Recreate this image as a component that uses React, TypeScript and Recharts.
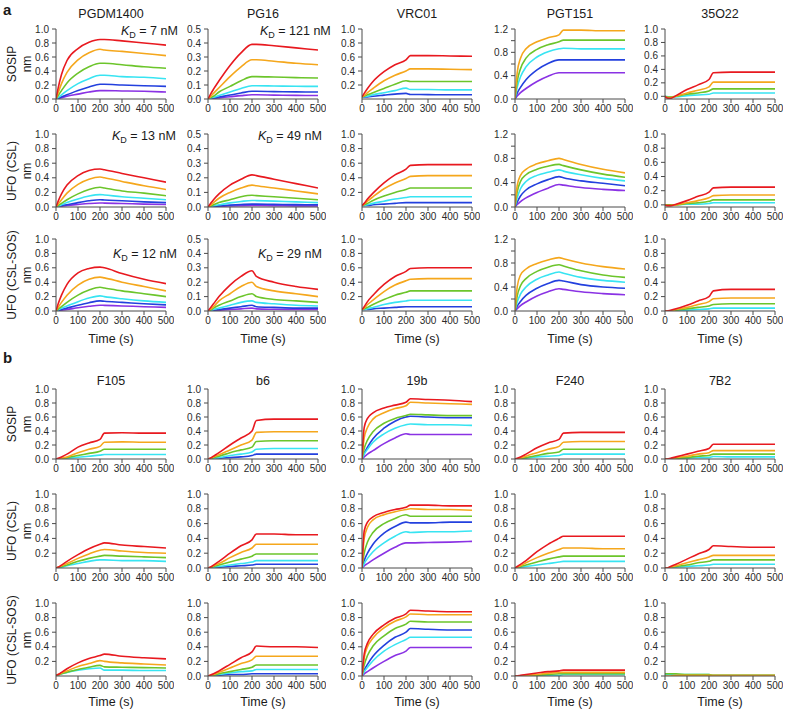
import React from 'react';
import { LineChart, Line, XAxis, YAxis } from 'recharts';

// sample times (s)
const times = [0, 10, 25, 50, 100, 150, 200, 220, 300, 400, 500];
const xTicks = [0, 100, 200, 300, 400, 500];

const colNames = ['PGDM1400', 'PG16', 'VRC01', 'PGT151', '35O22'];
const colNamesB = ['F105', 'b6', '19b', 'F240', '7B2'];
const rowNames = ['SOSIP', 'UFO (CSL)', 'UFO (CSL-SOS)'];

const T10 = [0, 0.2, 0.4, 0.6, 0.8, 1.0];
const T10b = [0.2, 0.4, 0.6, 0.8, 1.0];
const T05 = [0, 0.1, 0.2, 0.3, 0.4, 0.5];
const T12 = [0, 0.2, 0.4, 0.6, 0.8, 1.0, 1.2];

// ---------- section a ----------
const PGDM1400_SOSIP = {
  red: [0, 0.16, 0.35, 0.55, 0.72, 0.81, 0.85, 0.85, 0.83, 0.80, 0.77],
  orange: [0, 0.09, 0.22, 0.38, 0.56, 0.66, 0.71, 0.70, 0.68, 0.65, 0.62],
  green: [0, 0.05, 0.12, 0.23, 0.37, 0.46, 0.51, 0.51, 0.49, 0.46, 0.44],
  cyan: [0, 0.02, 0.06, 0.12, 0.22, 0.29, 0.34, 0.34, 0.32, 0.31, 0.29],
  blue: [0, 0.01, 0.03, 0.06, 0.12, 0.17, 0.21, 0.21, 0.20, 0.19, 0.18],
  purple: [0, 0.01, 0.02, 0.04, 0.07, 0.10, 0.12, 0.12, 0.115, 0.11, 0.10],
};
const PG16_SOSIP = {
  red: [0, 0.03, 0.07, 0.13, 0.24, 0.33, 0.39, 0.39, 0.38, 0.365, 0.35],
  orange: [0, 0.015, 0.04, 0.08, 0.16, 0.23, 0.28, 0.28, 0.27, 0.255, 0.245],
  green: [0, 0.01, 0.02, 0.05, 0.09, 0.13, 0.16, 0.16, 0.157, 0.153, 0.15],
  cyan: [0, 0.005, 0.012, 0.025, 0.05, 0.075, 0.095, 0.095, 0.093, 0.091, 0.09],
  blue: [0, 0.003, 0.007, 0.014, 0.028, 0.043, 0.055, 0.055, 0.053, 0.051, 0.05],
  purple: [0, 0.002, 0.004, 0.008, 0.016, 0.024, 0.03, 0.03, 0.028, 0.026, 0.025],
};
const VRC01_SOSIP = {
  red: [0.03, 0.08, 0.15, 0.25, 0.39, 0.49, 0.56, 0.62, 0.62, 0.615, 0.61],
  orange: [0.03, 0.05, 0.09, 0.15, 0.26, 0.34, 0.40, 0.43, 0.43, 0.425, 0.42],
  green: [0.03, 0.04, 0.06, 0.09, 0.15, 0.21, 0.26, 0.25, 0.25, 0.25, 0.25],
  cyan: [0.03, 0.035, 0.04, 0.06, 0.09, 0.12, 0.155, 0.135, 0.135, 0.13, 0.13],
  blue: [0.03, 0.03, 0.03, 0.04, 0.055, 0.07, 0.08, 0.065, 0.063, 0.06, 0.06],
};
const PGT151_SOSIP = {
  orange: [0, 0.45, 0.70, 0.86, 0.98, 1.05, 1.10, 1.18, 1.18, 1.17, 1.17],
  green: [0, 0.30, 0.52, 0.70, 0.85, 0.93, 0.98, 1.01, 1.01, 1.01, 1.01],
  cyan: [0, 0.20, 0.38, 0.55, 0.72, 0.81, 0.86, 0.87, 0.86, 0.86, 0.86],
  blue: [0, 0.10, 0.20, 0.33, 0.50, 0.61, 0.67, 0.67, 0.67, 0.67, 0.67],
  purple: [0, 0.05, 0.11, 0.18, 0.30, 0.39, 0.45, 0.45, 0.45, 0.45, 0.45],
};
const O22_SOSIP = {
  red: [0, -0.025, -0.03, 0.01, 0.10, 0.17, 0.25, 0.35, 0.36, 0.36, 0.36],
  orange: [0, -0.02, -0.02, 0.0, 0.05, 0.09, 0.14, 0.21, 0.21, 0.21, 0.21],
  green: [0, -0.01, -0.01, 0.0, 0.03, 0.05, 0.08, 0.11, 0.11, 0.11, 0.11],
  cyan: [0, -0.005, -0.01, -0.01, 0.01, 0.02, 0.03, 0.05, 0.05, 0.05, 0.05],
};

const PGDM1400_CSL = {
  red: [0, 0.08, 0.18, 0.30, 0.43, 0.50, 0.52, 0.51, 0.46, 0.40, 0.34],
  orange: [0, 0.04, 0.10, 0.19, 0.31, 0.38, 0.41, 0.40, 0.35, 0.29, 0.24],
  green: [0, 0.02, 0.05, 0.10, 0.18, 0.24, 0.27, 0.26, 0.22, 0.19, 0.155],
  cyan: [0, 0.01, 0.03, 0.06, 0.11, 0.15, 0.17, 0.165, 0.14, 0.12, 0.10],
  blue: [0, 0.008, 0.02, 0.03, 0.06, 0.085, 0.10, 0.095, 0.085, 0.07, 0.06],
  purple: [0, 0.004, 0.01, 0.02, 0.035, 0.048, 0.055, 0.053, 0.048, 0.04, 0.035],
};
const PG16_CSL = {
  red: [0, 0.02, 0.05, 0.09, 0.15, 0.19, 0.22, 0.215, 0.19, 0.16, 0.13],
  orange: [0, 0.01, 0.03, 0.06, 0.10, 0.13, 0.15, 0.145, 0.13, 0.11, 0.09],
  green: [0, 0.005, 0.015, 0.03, 0.05, 0.07, 0.08, 0.078, 0.07, 0.06, 0.05],
  cyan: [0, 0.003, 0.008, 0.015, 0.028, 0.038, 0.045, 0.044, 0.04, 0.035, 0.03],
  blue: [0, 0.002, 0.004, 0.008, 0.013, 0.017, 0.02, 0.02, 0.018, 0.016, 0.015],
  purple: [0, 0.001, 0.002, 0.004, 0.007, 0.009, 0.01, 0.01, 0.009, 0.008, 0.008],
};
const VRC01_CSL = {
  red: [0.02, 0.05, 0.11, 0.19, 0.33, 0.44, 0.52, 0.57, 0.58, 0.58, 0.58],
  orange: [0.02, 0.04, 0.08, 0.14, 0.25, 0.33, 0.39, 0.42, 0.43, 0.43, 0.43],
  green: [0.02, 0.03, 0.05, 0.09, 0.15, 0.20, 0.24, 0.26, 0.26, 0.26, 0.26],
  cyan: [0.02, 0.02, 0.03, 0.05, 0.08, 0.11, 0.13, 0.14, 0.14, 0.14, 0.14],
  blue: [0.02, 0.02, 0.02, 0.03, 0.04, 0.05, 0.06, 0.06, 0.06, 0.06, 0.06],
};
const PGT151_CSL = {
  orange: [0, 0.35, 0.52, 0.62, 0.71, 0.76, 0.80, 0.78, 0.70, 0.62, 0.56],
  green: [0, 0.25, 0.42, 0.53, 0.62, 0.67, 0.70, 0.68, 0.61, 0.54, 0.49],
  cyan: [0, 0.15, 0.30, 0.42, 0.52, 0.57, 0.61, 0.59, 0.53, 0.47, 0.43],
  blue: [0, 0.08, 0.18, 0.28, 0.38, 0.45, 0.50, 0.48, 0.43, 0.39, 0.35],
  purple: [0, 0.04, 0.09, 0.15, 0.24, 0.31, 0.37, 0.36, 0.32, 0.29, 0.27],
};
const O22_CSL = {
  red: [0, -0.01, -0.01, 0.01, 0.06, 0.12, 0.18, 0.24, 0.25, 0.25, 0.25],
  orange: [0, -0.01, -0.01, 0.0, 0.03, 0.06, 0.10, 0.13, 0.14, 0.14, 0.14],
  green: [0, 0, 0, 0, 0.02, 0.03, 0.05, 0.07, 0.07, 0.07, 0.07],
  cyan: [0, 0, 0, 0, 0.01, 0.01, 0.02, 0.03, 0.03, 0.03, 0.03],
};

const PGDM1400_CSLSOS = {
  red: [0, 0.10, 0.22, 0.37, 0.53, 0.59, 0.61, 0.60, 0.52, 0.44, 0.38],
  orange: [0, 0.05, 0.12, 0.22, 0.36, 0.44, 0.47, 0.46, 0.40, 0.34, 0.28],
  green: [0, 0.025, 0.06, 0.12, 0.22, 0.29, 0.33, 0.32, 0.28, 0.24, 0.20],
  cyan: [0, 0.015, 0.04, 0.07, 0.13, 0.18, 0.21, 0.20, 0.17, 0.14, 0.12],
  blue: [0, 0.008, 0.02, 0.04, 0.08, 0.115, 0.14, 0.135, 0.12, 0.10, 0.085],
  purple: [0, 0.004, 0.01, 0.02, 0.045, 0.065, 0.08, 0.078, 0.07, 0.06, 0.05],
};
const PG16_CSLSOS = {
  red: [0, 0.02, 0.05, 0.10, 0.18, 0.24, 0.28, 0.24, 0.20, 0.17, 0.15],
  orange: [0, 0.01, 0.03, 0.07, 0.12, 0.17, 0.20, 0.17, 0.14, 0.12, 0.10],
  green: [0, 0.005, 0.02, 0.04, 0.07, 0.10, 0.12, 0.10, 0.08, 0.07, 0.06],
  cyan: [0, 0.003, 0.01, 0.02, 0.04, 0.06, 0.07, 0.06, 0.05, 0.04, 0.035],
  blue: [0, 0.002, 0.005, 0.01, 0.02, 0.03, 0.04, 0.03, 0.025, 0.02, 0.02],
  purple: [0, 0.001, 0.002, 0.005, 0.01, 0.015, 0.02, 0.015, 0.012, 0.01, 0.01],
};
const VRC01_CSLSOS = {
  red: [0.02, 0.06, 0.13, 0.22, 0.37, 0.48, 0.55, 0.59, 0.60, 0.60, 0.60],
  orange: [0.02, 0.04, 0.09, 0.15, 0.27, 0.36, 0.42, 0.44, 0.45, 0.45, 0.45],
  green: [0.02, 0.03, 0.05, 0.09, 0.16, 0.22, 0.26, 0.28, 0.28, 0.28, 0.28],
  cyan: [0.02, 0.02, 0.03, 0.05, 0.09, 0.12, 0.14, 0.15, 0.15, 0.15, 0.15],
  blue: [0.02, 0.02, 0.02, 0.03, 0.04, 0.05, 0.06, 0.06, 0.06, 0.06, 0.06],
};
const PGT151_CSLSOS = {
  orange: [0, 0.40, 0.60, 0.70, 0.79, 0.85, 0.89, 0.87, 0.80, 0.74, 0.70],
  green: [0, 0.25, 0.42, 0.54, 0.66, 0.73, 0.77, 0.75, 0.67, 0.60, 0.56],
  cyan: [0, 0.15, 0.28, 0.40, 0.53, 0.60, 0.65, 0.63, 0.56, 0.51, 0.48],
  blue: [0, 0.08, 0.16, 0.26, 0.38, 0.46, 0.51, 0.50, 0.44, 0.40, 0.38],
  purple: [0, 0.04, 0.09, 0.15, 0.25, 0.32, 0.37, 0.36, 0.32, 0.29, 0.27],
};
const O22_CSLSOS = {
  red: [0, 0, 0.01, 0.03, 0.08, 0.14, 0.20, 0.28, 0.30, 0.30, 0.30],
  orange: [0, 0, 0, 0.02, 0.05, 0.09, 0.13, 0.17, 0.18, 0.18, 0.18],
  green: [0, 0, 0, 0.01, 0.03, 0.05, 0.07, 0.09, 0.10, 0.10, 0.10],
  cyan: [0, 0, 0, 0, 0.01, 0.02, 0.03, 0.04, 0.04, 0.04, 0.04],
};

// ---------- section b ----------
const F105_SOSIP = {
  red: [0, 0.01, 0.03, 0.07, 0.17, 0.23, 0.28, 0.37, 0.375, 0.37, 0.37],
  orange: [0, -0.005, 0.01, 0.03, 0.09, 0.14, 0.18, 0.24, 0.245, 0.24, 0.24],
  green: [0, 0, 0.005, 0.02, 0.05, 0.08, 0.11, 0.14, 0.14, 0.14, 0.14],
  cyan: [0, 0, 0, 0.01, 0.025, 0.04, 0.055, 0.065, 0.065, 0.065, 0.065],
};
const B6_SOSIP = {
  red: [0, 0.01, 0.04, 0.09, 0.20, 0.30, 0.40, 0.55, 0.57, 0.57, 0.57],
  orange: [0, 0.01, 0.03, 0.06, 0.13, 0.20, 0.27, 0.38, 0.39, 0.39, 0.39],
  green: [0, 0, 0.02, 0.04, 0.09, 0.13, 0.17, 0.25, 0.26, 0.26, 0.26],
  cyan: [0, 0, 0.01, 0.02, 0.05, 0.07, 0.10, 0.14, 0.15, 0.15, 0.15],
  blue: [0, 0, 0, 0.01, 0.02, 0.03, 0.05, 0.07, 0.07, 0.07, 0.07],
};
const B19_SOSIP = {
  red: [0, 0.45, 0.58, 0.66, 0.73, 0.77, 0.81, 0.86, 0.85, 0.84, 0.82],
  orange: [0, 0.30, 0.45, 0.57, 0.66, 0.72, 0.76, 0.81, 0.80, 0.79, 0.78],
  green: [0, 0.15, 0.27, 0.39, 0.51, 0.58, 0.62, 0.64, 0.63, 0.62, 0.62],
  blue: [0, 0.08, 0.17, 0.29, 0.44, 0.54, 0.60, 0.61, 0.60, 0.59, 0.59],
  cyan: [0, 0.07, 0.14, 0.24, 0.36, 0.44, 0.49, 0.50, 0.49, 0.49, 0.48],
  purple: [0, 0.03, 0.07, 0.12, 0.22, 0.30, 0.36, 0.35, 0.35, 0.35, 0.35],
};
const F240_SOSIP = {
  red: [0, 0.01, 0.03, 0.07, 0.16, 0.23, 0.28, 0.37, 0.38, 0.38, 0.38],
  orange: [0, 0, 0.01, 0.04, 0.09, 0.14, 0.18, 0.24, 0.25, 0.25, 0.25],
  green: [0, 0, 0.01, 0.02, 0.05, 0.08, 0.10, 0.14, 0.14, 0.14, 0.14],
  cyan: [0, 0, 0, 0.01, 0.03, 0.04, 0.05, 0.07, 0.07, 0.07, 0.07],
};
const B7B2_SOSIP = {
  red: [0, 0, 0.01, 0.03, 0.07, 0.11, 0.15, 0.21, 0.21, 0.21, 0.21],
  orange: [0, 0, 0, 0.02, 0.04, 0.07, 0.09, 0.12, 0.12, 0.12, 0.12],
  green: [0, 0, 0, 0.01, 0.02, 0.04, 0.05, 0.07, 0.07, 0.07, 0.07],
  cyan: [0, 0, 0, 0, 0.01, 0.02, 0.02, 0.035, 0.03, 0.03, 0.03],
};

const F105_CSL = {
  red: [0, 0.01, 0.04, 0.09, 0.18, 0.26, 0.32, 0.34, 0.31, 0.29, 0.27],
  orange: [0, 0.01, 0.03, 0.06, 0.13, 0.19, 0.24, 0.25, 0.23, 0.21, 0.20],
  green: [0, 0.01, 0.02, 0.04, 0.09, 0.13, 0.16, 0.17, 0.16, 0.15, 0.14],
  cyan: [0, 0, 0.01, 0.03, 0.06, 0.09, 0.11, 0.11, 0.10, 0.10, 0.09],
};
const B6_CSL = {
  red: [0, 0.01, 0.04, 0.09, 0.20, 0.30, 0.38, 0.46, 0.46, 0.45, 0.45],
  orange: [0, 0.01, 0.03, 0.06, 0.14, 0.21, 0.27, 0.32, 0.32, 0.32, 0.32],
  green: [0, 0, 0.02, 0.04, 0.08, 0.12, 0.16, 0.19, 0.19, 0.19, 0.19],
  cyan: [0, 0, 0.01, 0.02, 0.04, 0.06, 0.08, 0.10, 0.10, 0.10, 0.10],
  blue: [0, 0, 0, 0.01, 0.02, 0.03, 0.04, 0.05, 0.05, 0.05, 0.05],
};
const B19_CSL = {
  red: [0, 0.50, 0.62, 0.69, 0.75, 0.79, 0.82, 0.85, 0.85, 0.84, 0.84],
  orange: [0, 0.40, 0.55, 0.65, 0.72, 0.76, 0.79, 0.80, 0.79, 0.79, 0.78],
  green: [0, 0.20, 0.35, 0.48, 0.60, 0.67, 0.72, 0.70, 0.70, 0.70, 0.70],
  blue: [0, 0.10, 0.20, 0.32, 0.47, 0.56, 0.62, 0.61, 0.61, 0.62, 0.62],
  cyan: [0, 0.06, 0.13, 0.22, 0.34, 0.43, 0.49, 0.48, 0.49, 0.49, 0.50],
  purple: [0, 0.03, 0.06, 0.11, 0.20, 0.28, 0.34, 0.34, 0.345, 0.35, 0.36],
};
const F240_CSL = {
  red: [0, 0.02, 0.05, 0.10, 0.22, 0.32, 0.40, 0.43, 0.43, 0.43, 0.43],
  orange: [0, 0.01, 0.03, 0.07, 0.14, 0.20, 0.25, 0.27, 0.27, 0.26, 0.26],
  green: [0, 0.01, 0.02, 0.04, 0.08, 0.12, 0.15, 0.16, 0.16, 0.16, 0.16],
  cyan: [0, 0, 0.01, 0.02, 0.04, 0.06, 0.08, 0.09, 0.09, 0.09, 0.09],
};
const B7B2_CSL = {
  red: [0, 0, 0.02, 0.05, 0.12, 0.19, 0.25, 0.30, 0.29, 0.28, 0.28],
  orange: [0, 0, 0.01, 0.03, 0.07, 0.11, 0.15, 0.17, 0.17, 0.17, 0.17],
  green: [0, 0, 0.01, 0.02, 0.04, 0.07, 0.09, 0.11, 0.11, 0.11, 0.11],
  cyan: [0, 0, 0, 0.01, 0.02, 0.03, 0.04, 0.05, 0.05, 0.05, 0.05],
};

const F105_CSLSOS = {
  red: [0.01, 0.02, 0.05, 0.10, 0.18, 0.24, 0.28, 0.30, 0.27, 0.25, 0.235],
  orange: [0.01, 0.02, 0.04, 0.07, 0.13, 0.17, 0.21, 0.20, 0.18, 0.165, 0.15],
  green: [0.01, 0.015, 0.03, 0.05, 0.09, 0.12, 0.145, 0.125, 0.12, 0.115, 0.11],
  cyan: [0.01, 0.015, 0.03, 0.05, 0.08, 0.10, 0.11, 0.08, 0.08, 0.075, 0.075],
};
const B6_CSLSOS = {
  red: [0, 0.01, 0.03, 0.07, 0.16, 0.25, 0.33, 0.41, 0.40, 0.40, 0.39],
  orange: [0, 0.01, 0.02, 0.05, 0.11, 0.17, 0.22, 0.27, 0.27, 0.27, 0.27],
  green: [0, 0, 0.01, 0.03, 0.06, 0.09, 0.12, 0.15, 0.15, 0.15, 0.15],
  cyan: [0, 0, 0.01, 0.02, 0.04, 0.06, 0.07, 0.09, 0.09, 0.09, 0.09],
  blue: [0, 0, 0, 0.01, 0.02, 0.02, 0.03, 0.03, 0.03, 0.03, 0.03],
};
const B19_CSLSOS = {
  red: [0, 0.30, 0.45, 0.57, 0.70, 0.79, 0.85, 0.90, 0.89, 0.88, 0.88],
  orange: [0, 0.25, 0.40, 0.52, 0.66, 0.75, 0.81, 0.85, 0.84, 0.84, 0.84],
  green: [0, 0.15, 0.28, 0.41, 0.55, 0.65, 0.71, 0.75, 0.74, 0.74, 0.74],
  blue: [0, 0.08, 0.16, 0.27, 0.42, 0.53, 0.60, 0.65, 0.64, 0.63, 0.63],
  cyan: [0, 0.06, 0.12, 0.21, 0.34, 0.43, 0.50, 0.53, 0.53, 0.53, 0.53],
  purple: [0, 0.03, 0.06, 0.11, 0.20, 0.28, 0.34, 0.39, 0.39, 0.39, 0.39],
};
const F240_CSLSOS = {
  red: [0, 0, 0.01, 0.02, 0.04, 0.06, 0.07, 0.08, 0.08, 0.08, 0.08],
  orange: [0, 0, 0, 0.01, 0.02, 0.04, 0.05, 0.05, 0.05, 0.05, 0.05],
  green: [0, 0, 0, 0, 0.01, 0.02, 0.03, 0.03, 0.03, 0.03, 0.03],
  cyan: [0, 0, 0, 0, 0.01, 0.01, 0.01, 0.02, 0.02, 0.02, 0.02],
};
const B7B2_CSLSOS = {
  orange: [0, 0, 0, 0.01, 0.01, 0.01, 0.01, 0.01, 0.01, 0.01, 0.01],
  green: [0.03, 0.03, 0.03, 0.03, 0.02, 0.02, 0.02, 0.01, 0.01, 0.01, 0.01],
  cyan: [0.02, 0.02, 0.02, 0.02, 0.02, 0.02, 0.02, 0.01, 0.01, 0.01, 0.01],
};

const seriesKeys = ['purple', 'blue', 'cyan', 'green', 'orange', 'red'];
const colors: Record<string, string> = {
  red: '#e8191f',
  orange: '#f5a71c',
  green: '#6cc52b',
  cyan: '#38e4f2',
  blue: '#2340de',
  purple: '#8a32e4',
};

// layout
const colLeft = [56, 208, 362, 515, 665];
const PW = 110;
const rowTop = [29, 134, 239, 389, 494, 603];
const rowH = [70, 73, 72, 70, 74, 73];
const YW = 42;
const MT = 6;
const MR = 8;
const XH = 24;
const FONT = '"Liberation Sans", Arial, Helvetica, sans-serif';

type Series = Record<string, number[]>;
type PanelDef = {
  row: number;
  col: number;
  series: Series;
  ticks: number[];
  yMax: number;
  yMin?: number;
  label4?: boolean;
};

const panels: PanelDef[] = [
  { row: 0, col: 0, series: PGDM1400_SOSIP, ticks: T10, yMax: 1 },
  { row: 0, col: 1, series: PG16_SOSIP, ticks: T05, yMax: 0.5 },
  { row: 0, col: 2, series: VRC01_SOSIP, ticks: T10b, yMax: 1 },
  { row: 0, col: 3, series: PGT151_SOSIP, ticks: T12, yMax: 1.2, label4: true },
  { row: 0, col: 4, series: O22_SOSIP, ticks: T10, yMax: 1, yMin: -0.04 },
  { row: 1, col: 0, series: PGDM1400_CSL, ticks: T10, yMax: 1 },
  { row: 1, col: 1, series: PG16_CSL, ticks: T05, yMax: 0.5 },
  { row: 1, col: 2, series: VRC01_CSL, ticks: T10b, yMax: 1 },
  { row: 1, col: 3, series: PGT151_CSL, ticks: T12, yMax: 1.2, label4: true },
  { row: 1, col: 4, series: O22_CSL, ticks: T10, yMax: 1, yMin: -0.03 },
  { row: 2, col: 0, series: PGDM1400_CSLSOS, ticks: T10, yMax: 1 },
  { row: 2, col: 1, series: PG16_CSLSOS, ticks: T05, yMax: 0.5 },
  { row: 2, col: 2, series: VRC01_CSLSOS, ticks: T10b, yMax: 1 },
  { row: 2, col: 3, series: PGT151_CSLSOS, ticks: T12, yMax: 1.2, label4: true },
  { row: 2, col: 4, series: O22_CSLSOS, ticks: T10, yMax: 1 },
  { row: 3, col: 0, series: F105_SOSIP, ticks: T10, yMax: 1 },
  { row: 3, col: 1, series: B6_SOSIP, ticks: T10, yMax: 1 },
  { row: 3, col: 2, series: B19_SOSIP, ticks: T10, yMax: 1 },
  { row: 3, col: 3, series: F240_SOSIP, ticks: T10, yMax: 1 },
  { row: 3, col: 4, series: B7B2_SOSIP, ticks: T10, yMax: 1 },
  { row: 4, col: 0, series: F105_CSL, ticks: T10b, yMax: 1 },
  { row: 4, col: 1, series: B6_CSL, ticks: T10, yMax: 1 },
  { row: 4, col: 2, series: B19_CSL, ticks: T10, yMax: 1 },
  { row: 4, col: 3, series: F240_CSL, ticks: T10, yMax: 1 },
  { row: 4, col: 4, series: B7B2_CSL, ticks: T10, yMax: 1 },
  { row: 5, col: 0, series: F105_CSLSOS, ticks: T10b, yMax: 1 },
  { row: 5, col: 1, series: B6_CSLSOS, ticks: T10, yMax: 1 },
  { row: 5, col: 2, series: B19_CSLSOS, ticks: T10, yMax: 1 },
  { row: 5, col: 3, series: F240_CSLSOS, ticks: T10, yMax: 1 },
  { row: 5, col: 4, series: B7B2_CSLSOS, ticks: T10, yMax: 1 },
];

const kdLabels = [
  { text: '7 nM', x: 121, y: 32 },
  { text: '121 nM', x: 260, y: 32 },
  { text: '13 nM', x: 112, y: 137 },
  { text: '49 nM', x: 258, y: 137 },
  { text: '12 nM', x: 113, y: 255 },
  { text: '29 nM', x: 258, y: 255 },
];

const axisColor = '#4a4a4a';
const tickStyle = { fontSize: 10, fill: '#2a2a2a', fontFamily: FONT };

function Panel({ p }: { p: PanelDef }) {
  const keys = seriesKeys.filter((k) => p.series[k]);
  const data = times.map((t, i) => {
    const o: Record<string, number> = { t };
    keys.forEach((k) => {
      o[k] = p.series[k][i];
    });
    return o;
  });
  const ph = rowH[p.row];
  const left = colLeft[p.col] - YW;
  const top = rowTop[p.row] - MT;
  const fmt = (v: number) => {
    if (p.label4) {
      const r = Math.round(v * 10);
      return r % 4 === 0 ? v.toFixed(1) : '';
    }
    return v.toFixed(1);
  };
  return (
    <div style={{ position: 'absolute', left, top }}>
      <LineChart
        width={YW + PW + MR}
        height={MT + ph + XH}
        data={data}
        margin={{ top: MT, right: MR, bottom: 0, left: 0 }}
      >
        <XAxis
          dataKey="t"
          type="number"
          domain={[0, 500]}
          ticks={xTicks}
          interval={0}
          height={XH}
          tickSize={4}
          tickMargin={2}
          stroke={axisColor}
          tick={tickStyle}
          allowDataOverflow
        />
        <YAxis
          type="number"
          domain={[p.yMin ?? 0, p.yMax]}
          ticks={p.ticks}
          interval={0}
          width={YW}
          tickSize={4}
          tickMargin={3}
          stroke={axisColor}
          tick={tickStyle}
          tickFormatter={fmt}
          allowDataOverflow
        />
        {keys.map((k) => (
          <Line
            key={k}
            dataKey={k}
            type="monotone"
            stroke={colors[k]}
            strokeWidth={1.6}
            dot={false}
            isAnimationActive={false}
          />
        ))}
      </LineChart>
    </div>
  );
}

const textBase: React.CSSProperties = {
  position: 'absolute',
  fontFamily: FONT,
  color: '#1a1a1a',
  whiteSpace: 'nowrap',
};

function RowLabel({ row, text }: { row: number; text: string }) {
  const cy = rowTop[row] + rowH[row] / 2;
  return (
    <>
      <div
        style={{
          ...textBase,
          fontSize: 12,
          left: 12,
          top: cy,
          transform: 'translate(-50%, -50%) rotate(-90deg)',
        }}
      >
        {text}
      </div>
      <div
        style={{
          ...textBase,
          fontSize: 12,
          left: 27,
          top: cy,
          transform: 'translate(-50%, -50%) rotate(-90deg)',
        }}
      >
        nm
      </div>
    </>
  );
}

export default function App() {
  return (
    <div
      style={{
        position: 'absolute',
        left: 0,
        top: 0,
        width: 788,
        height: 710,
        background: '#fff',
        overflow: 'hidden',
      }}
    >
      <div style={{ ...textBase, left: 3, top: 1, fontSize: 15, fontWeight: 'bold' }}>a</div>
      <div style={{ ...textBase, left: 3, top: 349, fontSize: 15, fontWeight: 'bold' }}>b</div>
      {colNames.map((n, i) => (
        <div
          key={'ta' + n}
          style={{ ...textBase, fontSize: 12.5, left: colLeft[i] + PW / 2, top: 14, transform: 'translate(-50%, -50%)' }}
        >
          {n}
        </div>
      ))}
      {colNamesB.map((n, i) => (
        <div
          key={'tb' + n}
          style={{ ...textBase, fontSize: 12.5, left: colLeft[i] + PW / 2, top: 381, transform: 'translate(-50%, -50%)' }}
        >
          {n}
        </div>
      ))}
      {rowNames.map((n, i) => (
        <RowLabel key={'ra' + i} row={i} text={n} />
      ))}
      {rowNames.map((n, i) => (
        <RowLabel key={'rb' + i} row={i + 3} text={n} />
      ))}
      {panels.map((p, i) => (
        <Panel key={i} p={p} />
      ))}
      {kdLabels.map((k, i) => (
        <div
          key={'kd' + i}
          style={{ ...textBase, fontSize: 12.5, left: k.x, top: k.y, transform: 'translateY(-50%)' }}
        >
          <i>K</i>
          <sub style={{ fontSize: 9 }}>D</sub> = {k.text}
        </div>
      ))}
      {colLeft.map((x, i) => (
        <React.Fragment key={'time' + i}>
          <div style={{ ...textBase, fontSize: 12.5, left: x + PW / 2, top: 339, transform: 'translate(-50%, -50%)' }}>
            Time (s)
          </div>
          <div style={{ ...textBase, fontSize: 12.5, left: x + PW / 2, top: 702, transform: 'translate(-50%, -50%)' }}>
            Time (s)
          </div>
        </React.Fragment>
      ))}
    </div>
  );
}
